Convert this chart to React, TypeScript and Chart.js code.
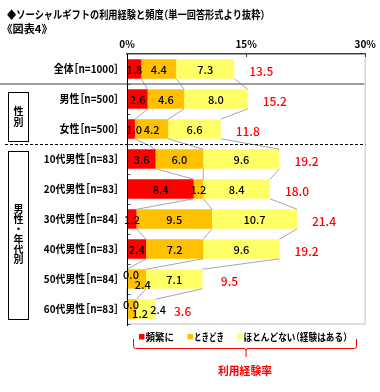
import React, { useEffect, useRef } from "react";
import { Chart, registerables } from "chart.js";
Chart.register(...registerables);

const categories = [
  "全体［n=1000］",
  "男性［n=500］",
  "女性［n=500］",
  "10代男性［n=83］",
  "20代男性［n=83］",
  "30代男性［n=84］",
  "40代男性［n=83］",
  "50代男性［n=84］",
  "60代男性［n=83］",
];
const frequent = [1.8, 2.6, 1.0, 3.6, 8.4, 1.2, 2.4, 0.0, 0.0];
const sometimes = [4.4, 4.6, 4.2, 6.0, 1.2, 9.5, 7.2, 2.4, 1.2];
const rarely = [7.3, 8.0, 6.6, 9.6, 8.4, 10.7, 9.6, 7.1, 2.4];
const totals = [13.5, 15.2, 11.8, 19.2, 18.0, 21.4, 19.2, 9.5, 3.6];
const seriesNames = ["頻繁に", "ときどき", "ほとんどない（経験はある）"];
const seriesColors = ["#FF0000", "#FFC000", "#FFFF66"];
const xMin = 0;
const xMax = 30;
const xStep = 15;
const titleText = "◆ソーシャルギフトの利用経験と頻度（単一回答形式より抜粋）";
const subTitleText = "《図表4》";
const groupGender = "性別";
const groupAge = "男性・年代別";
const totalCaption = "利用経験率";

const JP = '"Noto Sans CJK JP", "Noto Sans", sans-serif';
const OPEN = "［（《【「";
const CLOSE = "］）》】」";

function pWidth(ctx: CanvasRenderingContext2D, text: string) {
  let w = 0;
  for (const ch of text) {
    const cw = ctx.measureText(ch).width;
    if (OPEN.includes(ch) || CLOSE.includes(ch) || ch === "・") w += cw * 0.5;
    else w += cw;
  }
  return w;
}

function drawP(
  ctx: CanvasRenderingContext2D,
  text: string,
  x: number,
  y: number,
  align: "left" | "right" | "center",
  target?: number
) {
  const natural = pWidth(ctx, text);
  const sx = target ? target / natural : 1;
  const total = natural * sx;
  const start = align === "left" ? x : align === "right" ? x - total : x - total / 2;
  ctx.save();
  ctx.translate(start, y);
  ctx.scale(sx, 1);
  ctx.textAlign = "left";
  ctx.textBaseline = "middle";
  let cx = 0;
  for (const ch of text) {
    const cw = ctx.measureText(ch).width;
    if (OPEN.includes(ch)) {
      ctx.fillText(ch, cx - cw * 0.5, 0);
      cx += cw * 0.5;
    } else if (CLOSE.includes(ch)) {
      ctx.fillText(ch, cx, 0);
      cx += cw * 0.5;
    } else if (ch === "・") {
      ctx.fillText(ch, cx - cw * 0.25, 0);
      cx += cw * 0.5;
    } else {
      ctx.fillText(ch, cx, 0);
      cx += cw;
    }
  }
  ctx.restore();
}

// label nudges for crowded segments: key "row-series" -> [dx, dy]
const labelNudge: Record<string, [number, number]> = {
  "2-0": [3, 0],
  "7-0": [4, -5],
  "7-1": [6, 5],
  "8-0": [4, -5],
  "8-1": [8, 4],
  "8-2": [12, 0],
};

const decorPlugin = {
  id: "decor",
  afterDraw(chart: any) {
    const ctx: CanvasRenderingContext2D = chart.ctx;
    const area = chart.chartArea;
    const xs = chart.scales.x;
    const ys = chart.scales.y;
    const metas = [0, 1, 2].map((d) => chart.getDatasetMeta(d));
    const rowY = (i: number) => ys.getPixelForValue(i);
    const half = (rowY(1) - rowY(0)) / 2;
    const boundary = (i: number) => rowY(i) - half; // top of row i

    ctx.save();
    // frame: right & bottom light gray
    ctx.strokeStyle = "#d4d4d4";
    ctx.lineWidth = 1.5;
    ctx.beginPath();
    ctx.moveTo(area.right, area.top);
    ctx.lineTo(area.right, area.bottom);
    ctx.lineTo(area.left, area.bottom);
    ctx.stroke();

    // top ticks inside
    ctx.strokeStyle = "#404040";
    ctx.lineWidth = 1;
    for (let v = xMin + xStep; v <= xMax; v += xStep) {
      const px = Math.round(xs.getPixelForValue(v)) + 0.5;
      ctx.beginPath();
      ctx.moveTo(px, area.top);
      ctx.lineTo(px, area.top + 3);
      ctx.stroke();
    }

    // connector (series) lines
    ctx.strokeStyle = "#a6a6a6";
    ctx.lineWidth = 1;
    for (let i = 0; i < categories.length - 1; i++) {
      for (let k = 0; k < 3; k++) {
        const a = metas[k].data[i].getProps(["x", "y", "height"], true);
        const b = metas[k].data[i + 1].getProps(["x", "y", "height"], true);
        ctx.beginPath();
        ctx.moveTo(a.x, a.y + a.height / 2);
        ctx.lineTo(b.x, b.y - b.height / 2);
        ctx.stroke();
      }
    }

    // separators
    const b1 = Math.round(boundary(1));
    ctx.strokeStyle = "#7f7f7f";
    ctx.lineWidth = 1.5;
    ctx.beginPath();
    ctx.moveTo(0, b1);
    ctx.lineTo(area.right - 1, b1);
    ctx.stroke();

    const b3 = Math.round(boundary(3)) + 0.5;
    ctx.strokeStyle = "#000";
    ctx.lineWidth = 1;
    ctx.setLineDash([3, 2]);
    ctx.beginPath();
    ctx.moveTo(5, b3);
    ctx.lineTo(area.right, b3);
    ctx.stroke();
    ctx.setLineDash([]);

    // y axis line + ticks
    const ax = Math.round(area.left) + 0.5;
    ctx.strokeStyle = "#000";
    ctx.lineWidth = 1;
    ctx.beginPath();
    ctx.moveTo(ax, area.top);
    ctx.lineTo(ax, area.bottom + 2);
    ctx.stroke();
    ctx.strokeStyle = "#555";
    for (let i = 1; i <= categories.length; i++) {
      const by = Math.round(boundary(i)) + 0.5;
      ctx.beginPath();
      ctx.moveTo(ax, by);
      ctx.lineTo(ax + 3, by);
      ctx.stroke();
    }

    // category labels
    ctx.fillStyle = "#000";
    ctx.font = `bold 11px ${JP}`;
    categories.forEach((c, i) => {
      const w = pWidth(ctx, c);
      drawP(ctx, c, area.left - 8, rowY(i), "right", w * 0.9);
    });

    // group boxes
    ctx.strokeStyle = "#000";
    ctx.lineWidth = 1;
    const box1Top = b1 + 8;
    const box1Bot = b3 - 4;
    const box2Top = b3 + 6;
    const box2Bot = area.bottom - 6;
    ctx.strokeRect(8.5, Math.round(box1Top) + 0.5, 20, Math.round(box1Bot - box1Top));
    ctx.strokeRect(8.5, Math.round(box2Top) + 0.5, 20, Math.round(box2Bot - box2Top));
    ctx.font = `bold 10px ${JP}`;
    ctx.textAlign = "center";
    ctx.textBaseline = "middle";
    const drawVert = (txt: string, top: number, bot: number, step: number) => {
      const chars = Array.from(txt);
      const mid = (top + bot) / 2;
      chars.forEach((ch, j) => {
        ctx.fillText(ch, 18.5, mid + (j - (chars.length - 1) / 2) * step);
      });
    };
    drawVert(groupGender, box1Top, box1Bot, 11);
    drawVert(groupAge, box2Top, box2Bot, 10);

    // value labels inside bars
    ctx.font = `500 11px ${JP}`;
    ctx.fillStyle = "#000";
    ctx.textAlign = "center";
    ctx.textBaseline = "middle";
    const seriesData = [frequent, sometimes, rarely];
    for (let k = 0; k < 3; k++) {
      for (let i = 0; i < categories.length; i++) {
        const el = metas[k].data[i].getProps(["x", "base", "y"], true);
        const nudge = labelNudge[`${i}-${k}`] || [0, 0];
        ctx.fillText(
          seriesData[k][i].toFixed(1),
          (el.x + el.base) / 2 + nudge[0],
          el.y + 1 + nudge[1]
        );
      }
    }

    // totals
    ctx.font = `500 12px ${JP}`;
    ctx.fillStyle = "#FF0000";
    totals.forEach((t, i) => {
      ctx.fillText(t.toFixed(1), xs.getPixelForValue(t) + 27, rowY(i) + 2);
    });

    // title
    ctx.fillStyle = "#000";
    ctx.font = `bold 11px ${JP}`;
    drawP(ctx, titleText, 7, 15, "left", 258);
    drawP(ctx, subTitleText, 7, 29, "left", 40);

    // legend
    const legX = [139, 187.5, 237];
    const legW = [28.5, 30, 104];
    const legY = 337;
    ctx.font = `bold 10px ${JP}`;
    seriesNames.forEach((n, k) => {
      ctx.fillStyle = seriesColors[k];
      ctx.fillRect(legX[k], legY - 3, 5.5, 5.5);
      ctx.fillStyle = "#000";
      drawP(ctx, n, legX[k] + 6.5, legY, "left", legW[k]);
    });

    // bracket
    ctx.strokeStyle = "#FF0000";
    ctx.lineWidth = 1;
    const bl = 133.5;
    const br = 356.5;
    const by = 348.5;
    const bc = 246;
    ctx.beginPath();
    ctx.moveTo(bl, 339);
    ctx.lineTo(bl, by - 2);
    ctx.quadraticCurveTo(bl, by, bl + 2, by);
    ctx.lineTo(bc - 2, by);
    ctx.quadraticCurveTo(bc, by, bc, by + 2);
    ctx.lineTo(bc, 357);
    ctx.moveTo(bc, by + 2);
    ctx.quadraticCurveTo(bc, by, bc + 2, by);
    ctx.lineTo(br - 2, by);
    ctx.quadraticCurveTo(br, by, br, by - 2);
    ctx.lineTo(br, 339);
    ctx.stroke();

    ctx.fillStyle = "#FF0000";
    ctx.font = `bold 11px ${JP}`;
    drawP(ctx, totalCaption, 245, 371, "center", 54);
    ctx.restore();
  },
};

export default function App() {
  const ref = useRef<HTMLCanvasElement>(null);
  useEffect(() => {
    if (!ref.current) return;
    const chart = new Chart(ref.current, {
      type: "bar",
      data: {
        labels: categories,
        datasets: [frequent, sometimes, rarely].map((d, k) => ({
          label: seriesNames[k],
          data: d,
          backgroundColor: seriesColors[k],
          borderWidth: 0,
          barPercentage: 0.65,
          categoryPercentage: 1,
        })),
      },
      options: {
        indexAxis: "y",
        animation: false,
        responsive: false,
        devicePixelRatio: 1,
        layout: { padding: { left: 127, right: 13, top: 30, bottom: 68 } },
        plugins: { legend: { display: false }, tooltip: { enabled: false } },
        scales: {
          x: {
            position: "top",
            stacked: true,
            min: xMin,
            max: xMax,
            afterFit: (s: any) => {
              s.height = 24;
            },
            ticks: {
              stepSize: xStep,
              padding: 4,
              color: "#000",
              font: { family: JP, weight: "bold", size: 10 },
              callback: (v: any) => `${v}%`,
              maxRotation: 0,
            },
            grid: { drawOnChartArea: false, drawTicks: false },
            border: { color: "#404040", width: 1.5 },
          },
          y: {
            stacked: true,
            display: false,
          },
        },
      },
      plugins: [decorPlugin],
    } as any);
    return () => chart.destroy();
  }, []);
  return (
    <div style={{ position: "absolute", left: 0, top: 0, width: 380, height: 392, background: "#fff" }}>
      <canvas ref={ref} width={380} height={392} style={{ width: 380, height: 392 }} />
    </div>
  );
}
